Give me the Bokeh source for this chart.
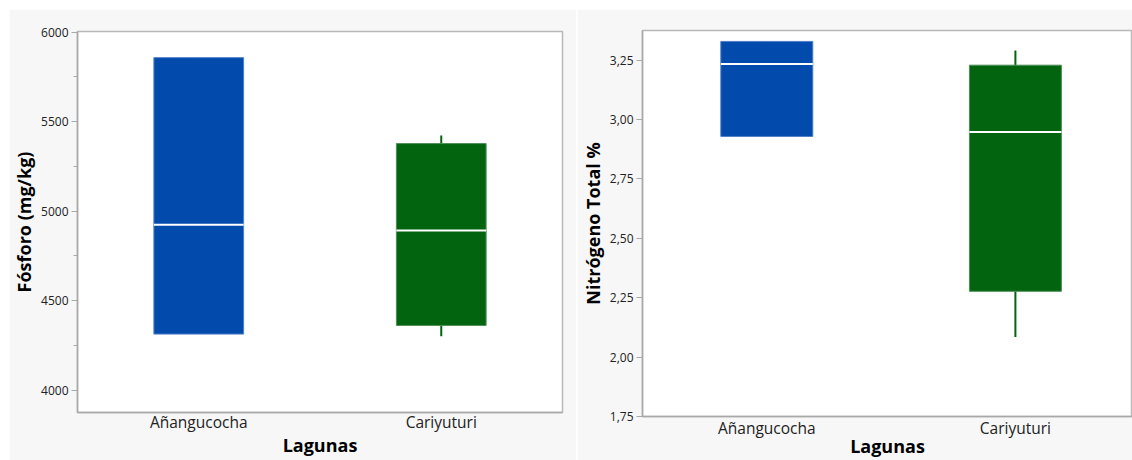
from bokeh.plotting import figure
from bokeh.layouts import row, column
from bokeh.models import ColumnDataSource, Range1d, SingleIntervalTicker, FixedTicker, CustomJSTickFormatter
from bokeh.embed import file_html
from bokeh.resources import INLINE

# ---------------- data ----------------
lagunas = ["Añangucocha", "Cariyuturi"]
colors = ["#034AAD", "#03640F"]
edge_colors = ["#4f7fc8", "#4f8f57"]

fosforo_low = [4313, 4301]
fosforo_q1 = [4313, 4361]
fosforo_med = [4924, 4892]
fosforo_q3 = [5857, 5377]
fosforo_high = [5857, 5422]

nitro_low = [2.929, 2.085]
nitro_q1 = [2.929, 2.277]
nitro_med = [3.234, 2.948]
nitro_q3 = [3.329, 3.229]
nitro_high = [3.329, 3.291]

x_label = "Lagunas"
y_label_left = "Fósforo (mg/kg)"
y_label_right = "Nitrógeno Total %"

FONT = "Open Sans"
BOX_W = 0.37


def make_source(low, q1, med, q3, high):
    xs = [i + 0.5 for i in range(len(lagunas))]
    return ColumnDataSource(dict(
        x=xs, x0=[x - BOX_W / 2 for x in xs], x1=[x + BOX_W / 2 for x in xs],
        low=low, q1=q1, med=med, q3=q3, high=high,
        color=colors, edge=edge_colors, name=lagunas,
    ))


def style(p, ylabel):
    p.background_fill_color = "white"
    p.border_fill_color = "#f7f7f7"
    p.outline_line_color = "#b8b8b8"
    p.outline_line_width = 1.5
    p.xgrid.visible = False
    p.ygrid.visible = False
    p.xaxis.ticker = FixedTicker(ticks=[i + 0.5 for i in range(len(lagunas))])
    p.xaxis.major_label_overrides = {i + 0.5: lab for i, lab in enumerate(lagunas)}
    p.xaxis.major_tick_out = 0
    p.xaxis.major_tick_in = 0
    p.xaxis.minor_tick_out = 0
    p.xaxis.minor_tick_in = 0
    p.xaxis.major_tick_line_color = None
    p.xaxis.minor_tick_line_color = None
    p.xaxis.major_label_text_font_size = "15.5px"
    p.xaxis.major_label_standoff = -2
    p.xaxis.axis_label = x_label
    p.xaxis.axis_label_standoff = -3
    p.yaxis.axis_label = ylabel
    p.yaxis.axis_label_standoff = 2
    p.yaxis.major_tick_out = 6
    p.yaxis.major_tick_in = 0
    p.yaxis.minor_tick_out = 4
    p.yaxis.minor_tick_in = 0
    p.yaxis.major_label_standoff = 3
    p.yaxis.major_label_text_font_size = "12px"
    p.yaxis.major_tick_line_color = "#a8a8a8"
    p.yaxis.minor_tick_line_color = "#a8a8a8"
    for ax in (p.xaxis, p.yaxis):
        ax.axis_line_color = "#a8a8a8"
        ax.axis_line_width = 1.5
        ax.major_label_text_font = FONT
        ax.major_label_text_color = "#222222"
        ax.axis_label_text_font = FONT
        ax.axis_label_text_font_style = "bold"
        ax.axis_label_text_font_size = "18px"
        ax.axis_label_text_color = "#000000"


def draw(p, src):
    p.segment(x0="x", y0="low", x1="x", y1="high", source=src, line_color="color", line_width=2)
    p.quad(left="x0", right="x1", bottom="q1", top="q3", source=src,
           fill_color="color", line_color="edge", line_width=1)
    p.segment(x0="x0", y0="med", x1="x1", y1="med", source=src, line_color="white", line_width=2)


# ---------------- left: Fósforo ----------------
p1 = figure(width=567, height=451, output_backend="svg", toolbar_location=None,
            x_range=Range1d(0, 2), y_range=Range1d(3875, 6003),
            min_border_left=68, min_border_right=14, min_border_top=22, min_border_bottom=48)
style(p1, y_label_left)
p1.yaxis.ticker = SingleIntervalTicker(interval=500, num_minor_ticks=2)
draw(p1, make_source(fosforo_low, fosforo_q1, fosforo_med, fosforo_q3, fosforo_high))
p1.margin = (9, 1, 0, 9)

# ---------------- right: Nitrógeno ----------------
p2 = figure(width=555, height=451, output_backend="svg", toolbar_location=None,
            x_range=Range1d(0, 1.971), y_range=Range1d(1.75, 3.375),
            min_border_left=62, min_border_right=0, min_border_top=21, min_border_bottom=44)
style(p2, y_label_right)
p2.yaxis.ticker = SingleIntervalTicker(interval=0.25, num_minor_ticks=0)
p2.yaxis.formatter = CustomJSTickFormatter(code="return tick.toFixed(2).replace('.', ',');")
p2.yaxis.axis_label_standoff = 2
p2.xaxis.major_label_standoff = 0
p2.xaxis.axis_label_standoff = -8
draw(p2, make_source(nitro_low, nitro_q1, nitro_med, nitro_q3, nitro_high))
p2.margin = (9, 0, 0, 0)

c1 = column(p1, spacing=0)
c1.margin = 0
c2 = column(p2, spacing=0)
c2.margin = 0
layout = row(c1, c2, spacing=0)
layout.margin = 0

open("out.html", "w").write(file_html(layout, INLINE))
